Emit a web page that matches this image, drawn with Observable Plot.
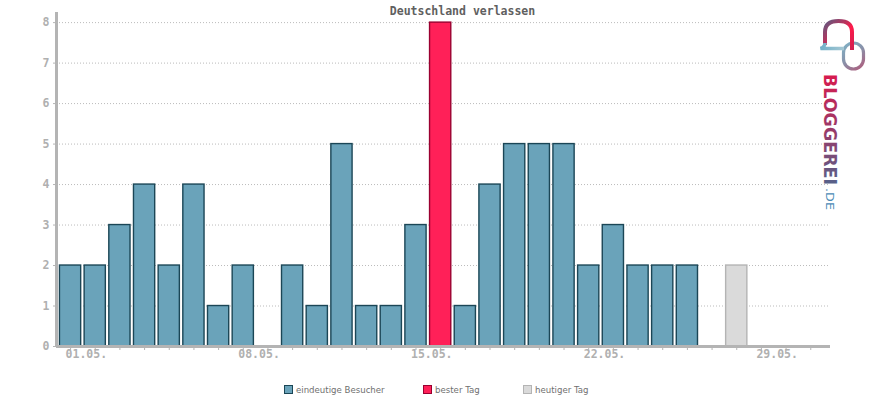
<!DOCTYPE html>
<html>
<head>
<meta charset="utf-8">
<script src="https://cdn.jsdelivr.net/npm/d3@7"></script>
<script src="https://cdn.jsdelivr.net/npm/@observablehq/plot@0.6"></script>
<style>
  html, body { margin: 0; padding: 0; background: #fff; }
  #wrap { position: relative; width: 870px; height: 400px; overflow: hidden; }
  #title { position: absolute; left: 0; top: 4px; width: 870px; text-align: center; padding-left: 55px; box-sizing: border-box;
           font-family: "DejaVu Sans Mono", monospace; font-weight: bold; font-size: 11.5px; color: #606060; }
  #chart { position: absolute; left: 0; top: 0; }
  .leg { position: absolute; top: 385px; font-family: "DejaVu Sans", sans-serif; font-size: 8.6px; color: #707070; white-space: nowrap; }
  .leg span.sw { display: inline-block; width: 7px; height: 7px; border: 1.5px solid; vertical-align: -1px; margin-right: 3px; }
  #logo { position: absolute; left: 800px; top: 0; }
</style>
</head>
<body>
<div id="wrap">
  <div id="chart"></div>
  <div id="title">Deutschland verlassen</div>
  <div class="leg" style="left:284px"><span class="sw" style="background:#6aa3ba;border-color:#1b4656"></span>eindeutige Besucher</div>
  <div class="leg" style="left:423px"><span class="sw" style="background:#ff2058;border-color:#9a0030"></span>bester Tag</div>
  <div class="leg" style="left:523px"><span class="sw" style="background:#dadada;border-color:#b4b4b4"></span>heutiger Tag</div>
  <svg id="logo" width="70" height="220" viewBox="800 0 70 220">
    <defs>
      <linearGradient id="gBell" x1="822" y1="20" x2="852" y2="50" gradientUnits="userSpaceOnUse">
        <stop offset="0" stop-color="#4f5f85"/>
        <stop offset="0.45" stop-color="#c0305a"/>
        <stop offset="0.6" stop-color="#ff1a4a"/>
        <stop offset="1" stop-color="#d02050"/>
      </linearGradient>
      <linearGradient id="gTail" x1="820" y1="48" x2="845" y2="48" gradientUnits="userSpaceOnUse">
        <stop offset="0" stop-color="#6fb0c8"/>
        <stop offset="1" stop-color="#a8c8d4"/>
      </linearGradient>
      <linearGradient id="gRing" x1="843" y1="43" x2="864" y2="69" gradientUnits="userSpaceOnUse">
        <stop offset="0" stop-color="#7fb2c6"/>
        <stop offset="0.5" stop-color="#8a90a8"/>
        <stop offset="1" stop-color="#b05a7a"/>
      </linearGradient>
      <linearGradient id="gText" x1="0" y1="0" x2="1" y2="0">
        <stop offset="0" stop-color="#d81a4e"/>
        <stop offset="0.5" stop-color="#9a3a68"/>
        <stop offset="1" stop-color="#55628a"/>
      </linearGradient>
    </defs>
    <rect x="843.5" y="43" width="20" height="26" rx="10" fill="none" stroke="url(#gRing)" stroke-width="3.2"/>
    <path d="M 825 45 L 825 32 Q 825 21 838.5 21 Q 852 21 852 32 L 852 50" fill="none" stroke="url(#gBell)" stroke-width="4"/>
    <path d="M 844 48.5 L 820.5 48.5 Q 825 47 825 43" fill="none" stroke="url(#gTail)" stroke-width="3.5"/>
    <text transform="translate(824,74) rotate(90)" font-family="DejaVu Sans" font-weight="bold" font-size="17" textLength="111" lengthAdjust="spacingAndGlyphs" fill="url(#gText)">BLOGGEREI</text>
    <text transform="translate(826,188) rotate(90)" font-family="DejaVu Sans" font-size="11" textLength="22" lengthAdjust="spacingAndGlyphs" fill="#4a8ab6">.DE</text>
  </svg>
</div>
<script>
// --- data ---
const days = [1,2,3,4,5,6,7,8,9,10,11,12,13,14,15,16,17,18,19,20,21,22,23,24,25,26,27,28,29,30,31];
const visitors = [2,2,3,4,2,4,1,2,0,2,1,5,1,1,3,8,1,4,5,5,5,2,3,2,2,2,0,2,0,0,0];
const bestDay = 16;
const todayDay = 28;
const xLabelDays = [1, 8, 15, 22, 29];
const xLabels = ["01.05.", "08.05.", "15.05.", "22.05.", "29.05."];
const yTicks = [0,1,2,3,4,5,6,7,8];

const rows = days.map((d, i) => ({day: d, value: visitors[i]})).filter(r => r.value > 0);
const normal = rows.filter(r => r.day !== bestDay && r.day !== todayDay);
const best = rows.filter(r => r.day === bestDay);
const today = rows.filter(r => r.day === todayDay);

const half = 0.43;
const bar = (data, fill, stroke) => Plot.rectY(data, {
  x1: d => d.day - half, x2: d => d.day + half, y1: 0, y2: "value",
  fill, stroke, strokeWidth: 1.4
});

const labelMap = new Map(xLabelDays.map((d, i) => [d, xLabels[i]]));

const chart = Plot.plot({
  width: 870,
  height: 370,
  marginLeft: 56,
  marginRight: 40,
  marginTop: 12,
  marginBottom: 24,
  style: {fontFamily: "DejaVu Sans Mono, monospace", fontSize: "11.5px", fontWeight: "bold", color: "#b0b0b0", background: "transparent"},
  x: {domain: [0.43, 31.8], axis: null},
  y: {domain: [0, 8.25], axis: null},
  marks: [
    Plot.gridY(yTicks.filter(t => t > 0), {stroke: "#bbbbbb", strokeOpacity: 1, strokeDasharray: "1,2", strokeWidth: 1}),
    bar(normal, "#6aa3ba", "#1b4656"),
    bar(best, "#ff2058", "#9a0030"),
    bar(today, "#dadada", "#b4b4b4"),
    Plot.axisY({ticks: yTicks, label: null, tickSize: 3, tickPadding: 4, stroke: "#b4b4b4", fill: "#b0b0b0", tickFormat: d => String(d)}),
    Plot.axisX({ticks: days, label: null, tickSize: 4, tickFormat: () => "", stroke: "#b4b4b4"}),
    Plot.axisX({ticks: xLabelDays, label: null, tickSize: 0, tickPadding: 3, tickFormat: d => labelMap.get(d), textAnchor: "start", dx: -5, fill: "#b0b0b0"}),
    Plot.ruleY([0], {stroke: "#b4b4b4", strokeWidth: 3}),
    Plot.ruleX([0.43], {y1: 0, y2: 8.25, stroke: "#b4b4b4", strokeWidth: 3})
  ]
});
document.getElementById("chart").appendChild(chart);
</script>
</body>
</html>
